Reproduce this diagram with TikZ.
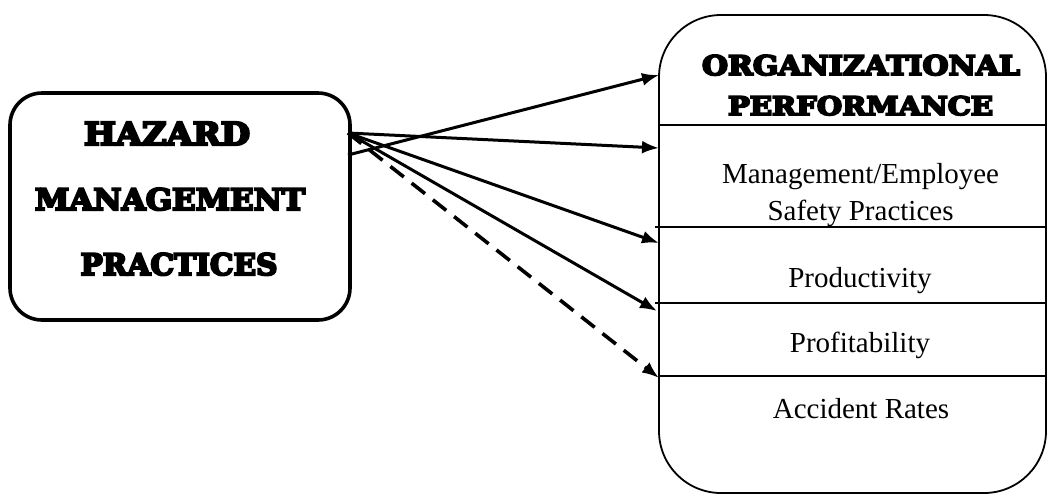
\documentclass[tikz,border=0pt]{standalone}
\usepackage{fontspec}
\setmainfont{Liberation Serif}
\newfontfamily\headfont[FakeBold=7]{DejaVu Serif Bold}
\usetikzlibrary{arrows.meta}
\tikzset{
  hbox/.style={draw, line width=3.6pt, rounded corners=32pt, inner sep=0pt},
  obox/.style={draw, line width=1.8pt, rounded corners=62pt, inner sep=0pt},
  sep/.style={line width=1.8pt},
  conn/.style={line width=3pt, -{Latex[length=17pt,width=13pt]}},
  dconn/.style={conn, line width=3.6pt, dash pattern=on 17pt off 10pt},
  head/.style={anchor=base, inner sep=0pt},
  item/.style={anchor=base, inner sep=0pt, font=\fontsize{29}{34}\selectfont}
}
\begin{document}
\begin{tikzpicture}[x=1pt, y=-1pt]
\useasboundingbox (0,0) rectangle (1056,496);
% boxes
\node[hbox, minimum width=340pt, minimum height=227pt] (hmp) at (180,206.5) {};
\node[obox, minimum width=387pt, minimum height=478pt] (op) at (852.5,254) {};
% separators
\draw[sep] (659,125) -- (1046,125);
\draw[sep] (655,227) -- (1046,227);
\draw[sep] (655,303) -- (1046,303);
\draw[sep] (659,376) -- (1046,376);
% left text
\node[head] (t1) at (167,145) {\resizebox{166pt}{23pt}{\headfont HAZARD}};
\node[head] (t2) at (170,210) {\resizebox{270pt}{22pt}{\headfont MANAGEMENT}};
\node[head] (t3) at (179,275) {\resizebox{197pt}{22pt}{\headfont PRACTICES}};
% right heading
\node[head] (o1) at (861,75) {\resizebox{318pt}{20pt}{\headfont ORGANIZATIONAL}};
\node[head] (o2) at (860.5,115) {\resizebox{265pt}{19pt}{\headfont PERFORMANCE}};
% items
\node[item] (i1) at (860.5,183) {Management/Employee};
\node[item] (i2) at (860.5,220) {Safety Practices};
\node[item] (i3) at (860,287) {Productivity};
\node[item] (i4) at (860,352) {Profitability};
\node[item] (i5) at (861,418) {Accident Rates};
% connector end points
\coordinate (sA) at (348,155);
\coordinate (sB) at (348,133);
\coordinate (e1) at (659,75);
\coordinate (e2) at (659,148);
\coordinate (e3) at (659,243);
\coordinate (e4) at (657,311);
\coordinate (e5) at (659,378);
\draw[conn] (sA) -- (e1);
\draw[conn] (sB) -- (e2);
\draw[conn] (sB) -- (e3);
\draw[conn] (sB) -- (e4);
\draw[dconn] (sB) -- (e5);
\end{tikzpicture}
\end{document}
